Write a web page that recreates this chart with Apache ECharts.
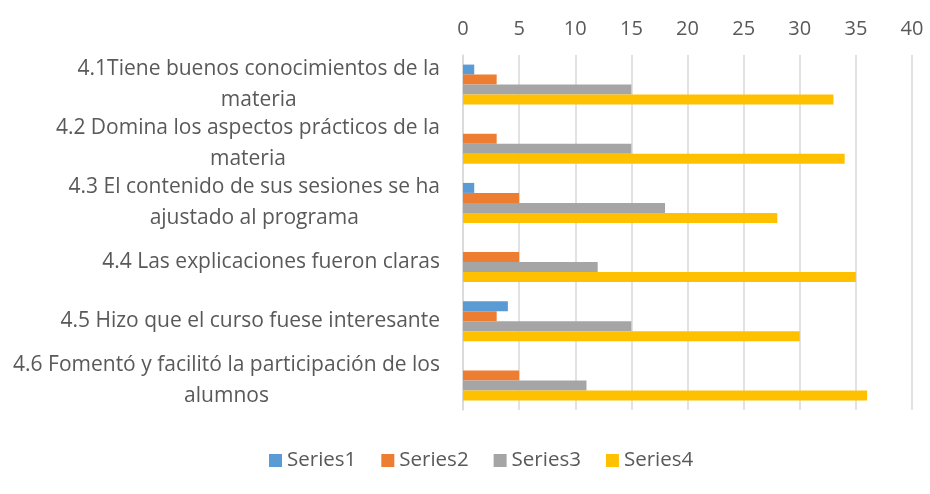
<!DOCTYPE html>
<html>
<head>
<meta charset="utf-8">
<script src="https://cdn.jsdelivr.net/npm/echarts@6/dist/echarts.min.js"></script>
<style>
  html, body { margin: 0; padding: 0; background: #fff; }
  #chart { width: 930px; height: 494px; }
</style>
</head>
<body>
<div id="chart"></div>
<script>
// categories, top to bottom (\n marks where the label wraps)
var categories = [
  '4.1Tiene buenos conocimientos de la\nmateria',
  '4.2 Domina los aspectos prácticos de la\nmateria',
  '4.3 El contenido de sus sesiones se ha\najustado al programa',
  '4.4 Las explicaciones fueron claras',
  '4.5 Hizo que el curso fuese interesante',
  '4.6 Fomentó y facilitó la participación de los\nalumnos'
];
var seriesNames = ['Series1', 'Series2', 'Series3', 'Series4'];
var series1 = [1, 0, 1, 0, 4, 0];
var series2 = [3, 3, 5, 5, 3, 5];
var series3 = [15, 15, 18, 12, 15, 11];
var series4 = [33, 34, 28, 35, 30, 36];
var colors = ['#5B9BD5', '#ED7D31', '#A5A5A5', '#FFC000'];

var textColor = '#595959';
var font = '"Open Sans", sans-serif';

var myChart = echarts.init(document.getElementById('chart'));

function bar(name, data, i) {
  return {
    name: name,
    type: 'bar',
    data: data,
    barWidth: 10,
    barGap: '0%',
    itemStyle: { color: colors[i] },
    emphasis: { disabled: true }
  };
}

var option = {
  animation: false,
  textStyle: { fontFamily: font },
  grid: { left: 463, right: 18, top: 55, bottom: 84 },
  legend: {
    bottom: 18,
    left: 264,
    itemWidth: 13,
    itemHeight: 13,
    itemGap: 25,
    icon: 'rect',
    data: seriesNames,
    textStyle: { color: textColor, fontSize: 20.5, fontFamily: font }
  },
  xAxis: {
    type: 'value',
    position: 'top',
    min: 0,
    max: 40,
    interval: 5,
    axisLine: { show: false },
    axisTick: { show: false },
    axisLabel: { color: textColor, fontSize: 20, margin: 16, fontFamily: font },
    splitLine: { lineStyle: { color: '#D9D9D9', width: 1.5 } }
  },
  yAxis: {
    type: 'category',
    inverse: true,
    data: categories,
    axisLine: { show: true, lineStyle: { color: '#D9D9D9', width: 1.5 } },
    axisTick: { show: false },
    axisLabel: {
      margin: 23,
      formatter: function (v) {
        return v.split('\n').map(function (l) { return '{c|' + l + '}'; }).join('\n');
      },
      rich: {
        c: { align: 'center', color: textColor, fontSize: 21, lineHeight: 31, fontFamily: font }
      }
    }
  },
  series: [
    bar('Series1', series1, 0),
    bar('Series2', series2, 1),
    bar('Series3', series3, 2),
    bar('Series4', series4, 3)
  ]
};
myChart.setOption(option);
</script>
</body>
</html>
